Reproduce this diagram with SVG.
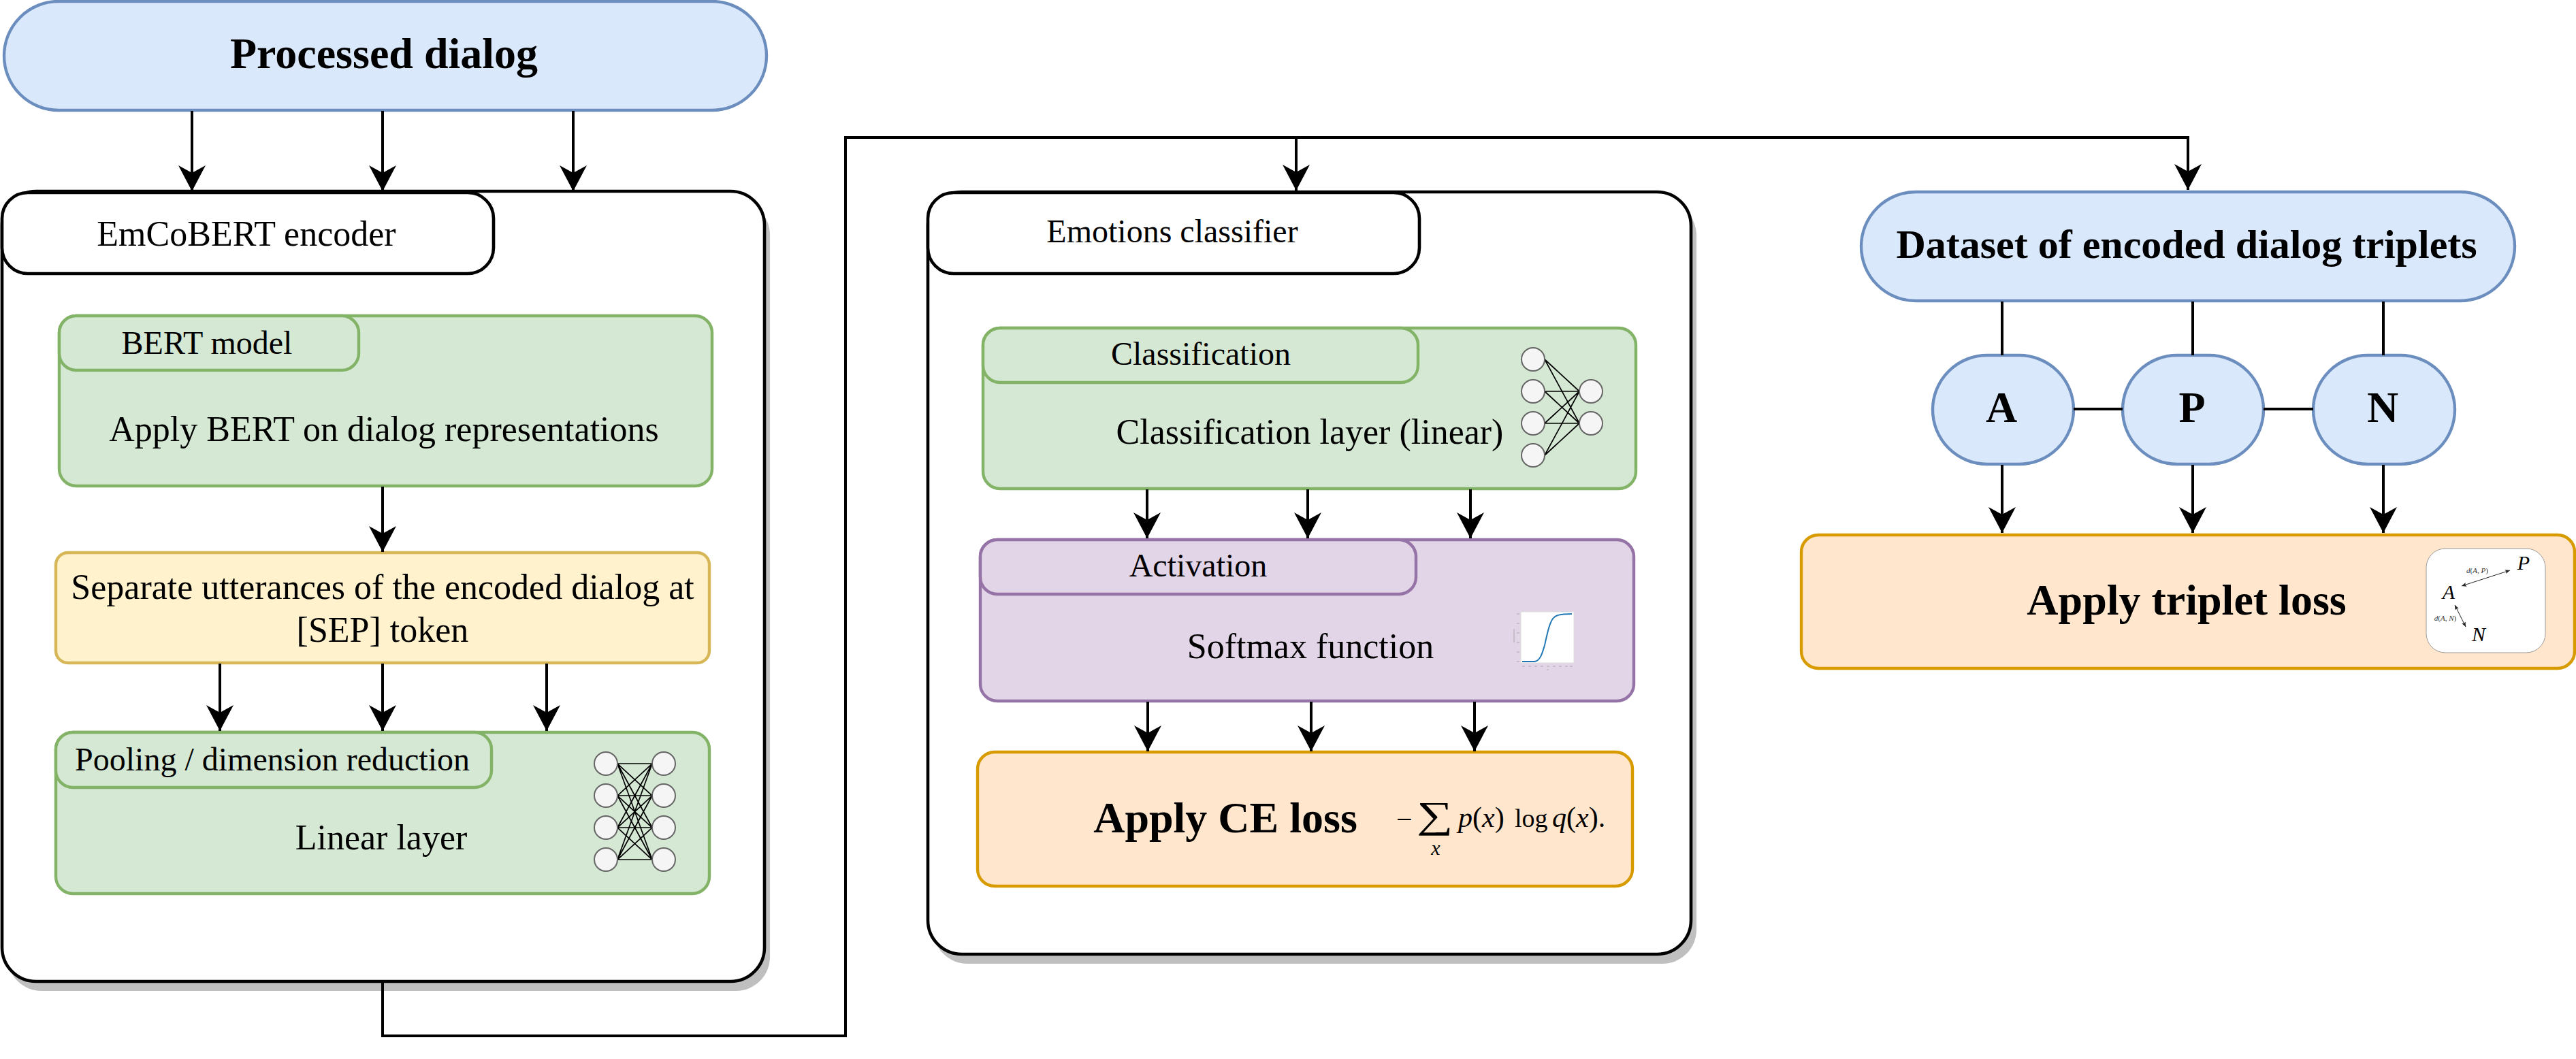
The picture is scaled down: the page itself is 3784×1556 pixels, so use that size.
<svg xmlns="http://www.w3.org/2000/svg" width="3784" height="1556" viewBox="0 0 3784 1556">
<style>
text{font-family:"Liberation Serif","Times New Roman",serif;fill:#000;text-anchor:middle}
.t48{font-size:48px}.t52{font-size:52px}.b64{font-size:64px;font-weight:bold}.b60{font-size:60px;font-weight:bold}
.m{font-size:42px;text-anchor:start}.i{font-style:italic}
.blue{fill:#dae8fc;stroke:#6c8ebf;stroke-width:4.4}
.green{fill:#d5e8d4;stroke:#82b366;stroke-width:4.4}
.yellow{fill:#fff2cc;stroke:#d6b656;stroke-width:4.4}
.purple{fill:#e1d5e7;stroke:#9673a6;stroke-width:4.4}
.orange{fill:#ffe6cc;stroke:#d79b00;stroke-width:4.4}
.outer{fill:#fff;stroke:#000;stroke-width:4.6}
.shadow{fill:#bfbfbf}
.n{fill:#f5f5f5;stroke:#666;stroke-width:2}
.nl{stroke:#000;stroke-width:1.7;fill:none}
.c{fill:none;stroke:#000;stroke-width:4}
.a{marker-end:url(#arr)}
.tick{stroke:#aaa;stroke-width:1;fill:none}
</style>
<defs>
<marker id="arr" markerUnits="userSpaceOnUse" markerWidth="44" markerHeight="44" viewBox="0 0 44 44" refX="40" refY="22" orient="auto">
<path d="M40 22 L2 2 L13 22 L2 42 Z" fill="#000"/>
</marker>
<marker id="sa" markerUnits="userSpaceOnUse" markerWidth="8" markerHeight="8" viewBox="0 0 8 8" refX="7" refY="4" orient="auto-start-reverse">
<path d="M7 4 L0 1 L1.5 4 L0 7 Z" fill="#222"/>
</marker>
</defs>

<g id="processed-dialog">
<rect class="blue" x="6" y="2" width="1120" height="160" rx="80" ry="80"/>
<text class="b64" x="564" y="100">Processed dialog</text>
</g>

<g id="encoder">
<rect class="shadow" x="11" y="295" width="1120" height="1161" rx="50" ry="50"/>
<rect class="outer" x="3" y="281" width="1120" height="1161" rx="50" ry="50"/>
<rect class="outer" x="3" y="283" width="722" height="119" rx="38" ry="38"/>
<text class="t52" x="362" y="361">EmCoBERT encoder</text>
</g>

<g id="bert-model">
<rect class="green" x="87" y="464" width="959" height="250" rx="25" ry="25"/>
<rect class="green" x="87" y="464" width="440" height="80" rx="25" ry="25"/>
<text class="t48" x="304" y="520">BERT model</text>
<text class="t52" x="564" y="648">Apply BERT on dialog representations</text>
</g>

<g id="separate">
<rect class="yellow" x="82" y="812" width="960" height="162" rx="18" ry="18"/>
<text class="t52" x="562" y="880">Separate utterances of the encoded dialog at</text>
<text class="t52" x="562" y="943">[SEP] token</text>
</g>

<g id="pooling">
<rect class="green" x="82" y="1076" width="960" height="237" rx="25" ry="25"/>
<rect class="green" x="82" y="1076" width="640" height="81" rx="25" ry="25"/>
<text class="t48" x="400" y="1132">Pooling / dimension reduction</text>
<text class="t52" x="560" y="1248">Linear layer</text>
<path class="nl" d="M907 1122L958 1122M907 1122L958 1169M907 1122L958 1216M907 1122L958 1263M907 1169L958 1122M907 1169L958 1169M907 1169L958 1216M907 1169L958 1263M907 1216L958 1122M907 1216L958 1169M907 1216L958 1216M907 1216L958 1263M907 1263L958 1122M907 1263L958 1169M907 1263L958 1216M907 1263L958 1263"/>
<circle class="n" cx="890" cy="1122" r="17"/><circle class="n" cx="890" cy="1169" r="17"/><circle class="n" cx="890" cy="1216" r="17"/><circle class="n" cx="890" cy="1263" r="17"/>
<circle class="n" cx="975" cy="1122" r="17"/><circle class="n" cx="975" cy="1169" r="17"/><circle class="n" cx="975" cy="1216" r="17"/><circle class="n" cx="975" cy="1263" r="17"/>
</g>

<g id="emotions-classifier">
<rect class="shadow" x="1371" y="296" width="1121" height="1120" rx="50" ry="50"/>
<rect class="outer" x="1363" y="282" width="1121" height="1120" rx="50" ry="50"/>
<rect class="outer" x="1363" y="283" width="722" height="119" rx="38" ry="38"/>
<text class="t48" x="1722" y="356">Emotions classifier</text>
</g>

<g id="classification">
<rect class="green" x="1444" y="482" width="959" height="236" rx="25" ry="25"/>
<rect class="green" x="1444" y="482" width="639" height="80" rx="25" ry="25"/>
<text class="t48" x="1764" y="536">Classification</text>
<text class="t52" x="1924" y="652">Classification layer (linear)</text>
<path class="nl" d="M2269 528L2320 575M2269 528L2320 622M2269 575L2320 575M2269 575L2320 622M2269 622L2320 575M2269 622L2320 622M2269 669L2320 575M2269 669L2320 622"/>
<circle class="n" cx="2252" cy="528" r="17"/><circle class="n" cx="2252" cy="575" r="17"/><circle class="n" cx="2252" cy="622" r="17"/><circle class="n" cx="2252" cy="669" r="17"/>
<circle class="n" cx="2337" cy="575" r="17"/><circle class="n" cx="2337" cy="622" r="17"/>
</g>

<g id="activation">
<rect class="purple" x="1440" y="793" width="960" height="237" rx="25" ry="25"/>
<rect class="purple" x="1440" y="793" width="640" height="80" rx="25" ry="25"/>
<text class="t48" x="1760" y="847">Activation</text>
<text class="t52" x="1925" y="967">Softmax function</text>
<rect x="2234" y="899" width="78" height="75" fill="#fff" stroke="#ddd" stroke-width="1"/>
<path d="M2236 972 L2254 972 C2262 971 2265 962 2269 948 C2273 930 2276 916 2281 909 C2285 904 2291 902 2309 902" fill="none" stroke="#1f77b4" stroke-width="2"/>
<path class="tick" d="M2228 902h4M2228 916h4M2228 930h4M2228 944h4M2228 958h4M2228 972h4M2224 924v20M2236 979h4M2245 979h4M2254 979h4M2263 979h4M2272 979h4M2281 979h4M2290 979h4M2299 979h4M2306 979h4M2272 984h3"/>
</g>

<g id="ce-loss">
<rect class="orange" x="1436" y="1105" width="962" height="197" rx="25" ry="25"/>
<text class="b64" x="1800" y="1223">Apply CE loss</text>
<text class="m" x="2051" y="1218">−</text>
<text class="m" transform="translate(2081 1216) scale(1.5 1.1)" x="0" y="0" style="font-size:50px">∑</text>
<text class="i" x="2109" y="1256" style="font-size:30px">x</text>
<text class="m" x="2142" y="1215"><tspan class="i">p</tspan>(<tspan class="i">x</tspan>)</text>
<text class="m" x="2225" y="1215" style="font-size:38px">log</text>
<text class="m" x="2280" y="1215"><tspan class="i">q</tspan>(<tspan class="i">x</tspan>).</text>
</g>

<g id="dataset">
<rect class="blue" x="2734" y="282" width="960" height="160" rx="80" ry="80"/>
<text class="b60" x="3212" y="379">Dataset of encoded dialog triplets</text>
</g>

<g id="node-a">
<rect class="blue" x="2839" y="522" width="207" height="160" rx="80" ry="80"/>
<text class="b64" x="2940" y="620">A</text>
</g>
<g id="node-p">
<rect class="blue" x="3118" y="522" width="207" height="160" rx="80" ry="80"/>
<text class="b64" x="3220" y="620">P</text>
</g>
<g id="node-n">
<rect class="blue" x="3398" y="522" width="208" height="160" rx="80" ry="80"/>
<text class="b64" x="3500" y="620">N</text>
</g>

<g id="triplet-loss">
<rect class="orange" x="2646" y="786" width="1136" height="196" rx="25" ry="25"/>
<text class="b64" x="3212" y="903">Apply triplet loss</text>
<rect x="3564" y="806" width="175" height="153" rx="28" ry="28" fill="#fff" stroke="#999" stroke-width="1"/>
<text class="i" x="3707" y="837" style="font-size:30px">P</text>
<text class="i" x="3597" y="880" style="font-size:30px">A</text>
<text class="i" x="3641" y="942" style="font-size:30px">N</text>
<text x="3639" y="842" style="font-size:11px;fill:#333"><tspan class="i">d</tspan>(<tspan class="i">A, P</tspan>)</text>
<text x="3592" y="912" style="font-size:11px;fill:#333"><tspan class="i">d</tspan>(<tspan class="i">A, N</tspan>)</text>
<path d="M3616 861 L3687 838" fill="none" stroke="#222" stroke-width="1" marker-start="url(#sa)" marker-end="url(#sa)"/>
<path d="M3606 889 L3622 921" fill="none" stroke="#222" stroke-width="1" marker-start="url(#sa)" marker-end="url(#sa)"/>
</g>

<g id="connectors">
<path class="c a" d="M282 163V281"/>
<path class="c a" d="M562 163V281"/>
<path class="c a" d="M842 163V281"/>
<path class="c a" d="M562 715V811"/>
<path class="c a" d="M323 975V1074"/>
<path class="c a" d="M562 975V1074"/>
<path class="c a" d="M803 975V1074"/>
<path class="c a" d="M562 1442V1522H1242V202H1904V280"/>
<path class="c a" d="M1904 202H3214V279"/>
<path class="c a" d="M1685 719V791"/>
<path class="c a" d="M1921 719V791"/>
<path class="c a" d="M2160 719V791"/>
<path class="c a" d="M1686 1031V1104"/>
<path class="c a" d="M1926 1031V1104"/>
<path class="c a" d="M2166 1031V1104"/>
<path class="c" d="M2941 443V522"/>
<path class="c" d="M3221 443V522"/>
<path class="c" d="M3501 443V522"/>
<path class="c" d="M3046 601H3118"/>
<path class="c" d="M3325 601H3398"/>
<path class="c a" d="M2941 683V783"/>
<path class="c a" d="M3221 683V783"/>
<path class="c a" d="M3501 683V783"/>
</g>
</svg>
